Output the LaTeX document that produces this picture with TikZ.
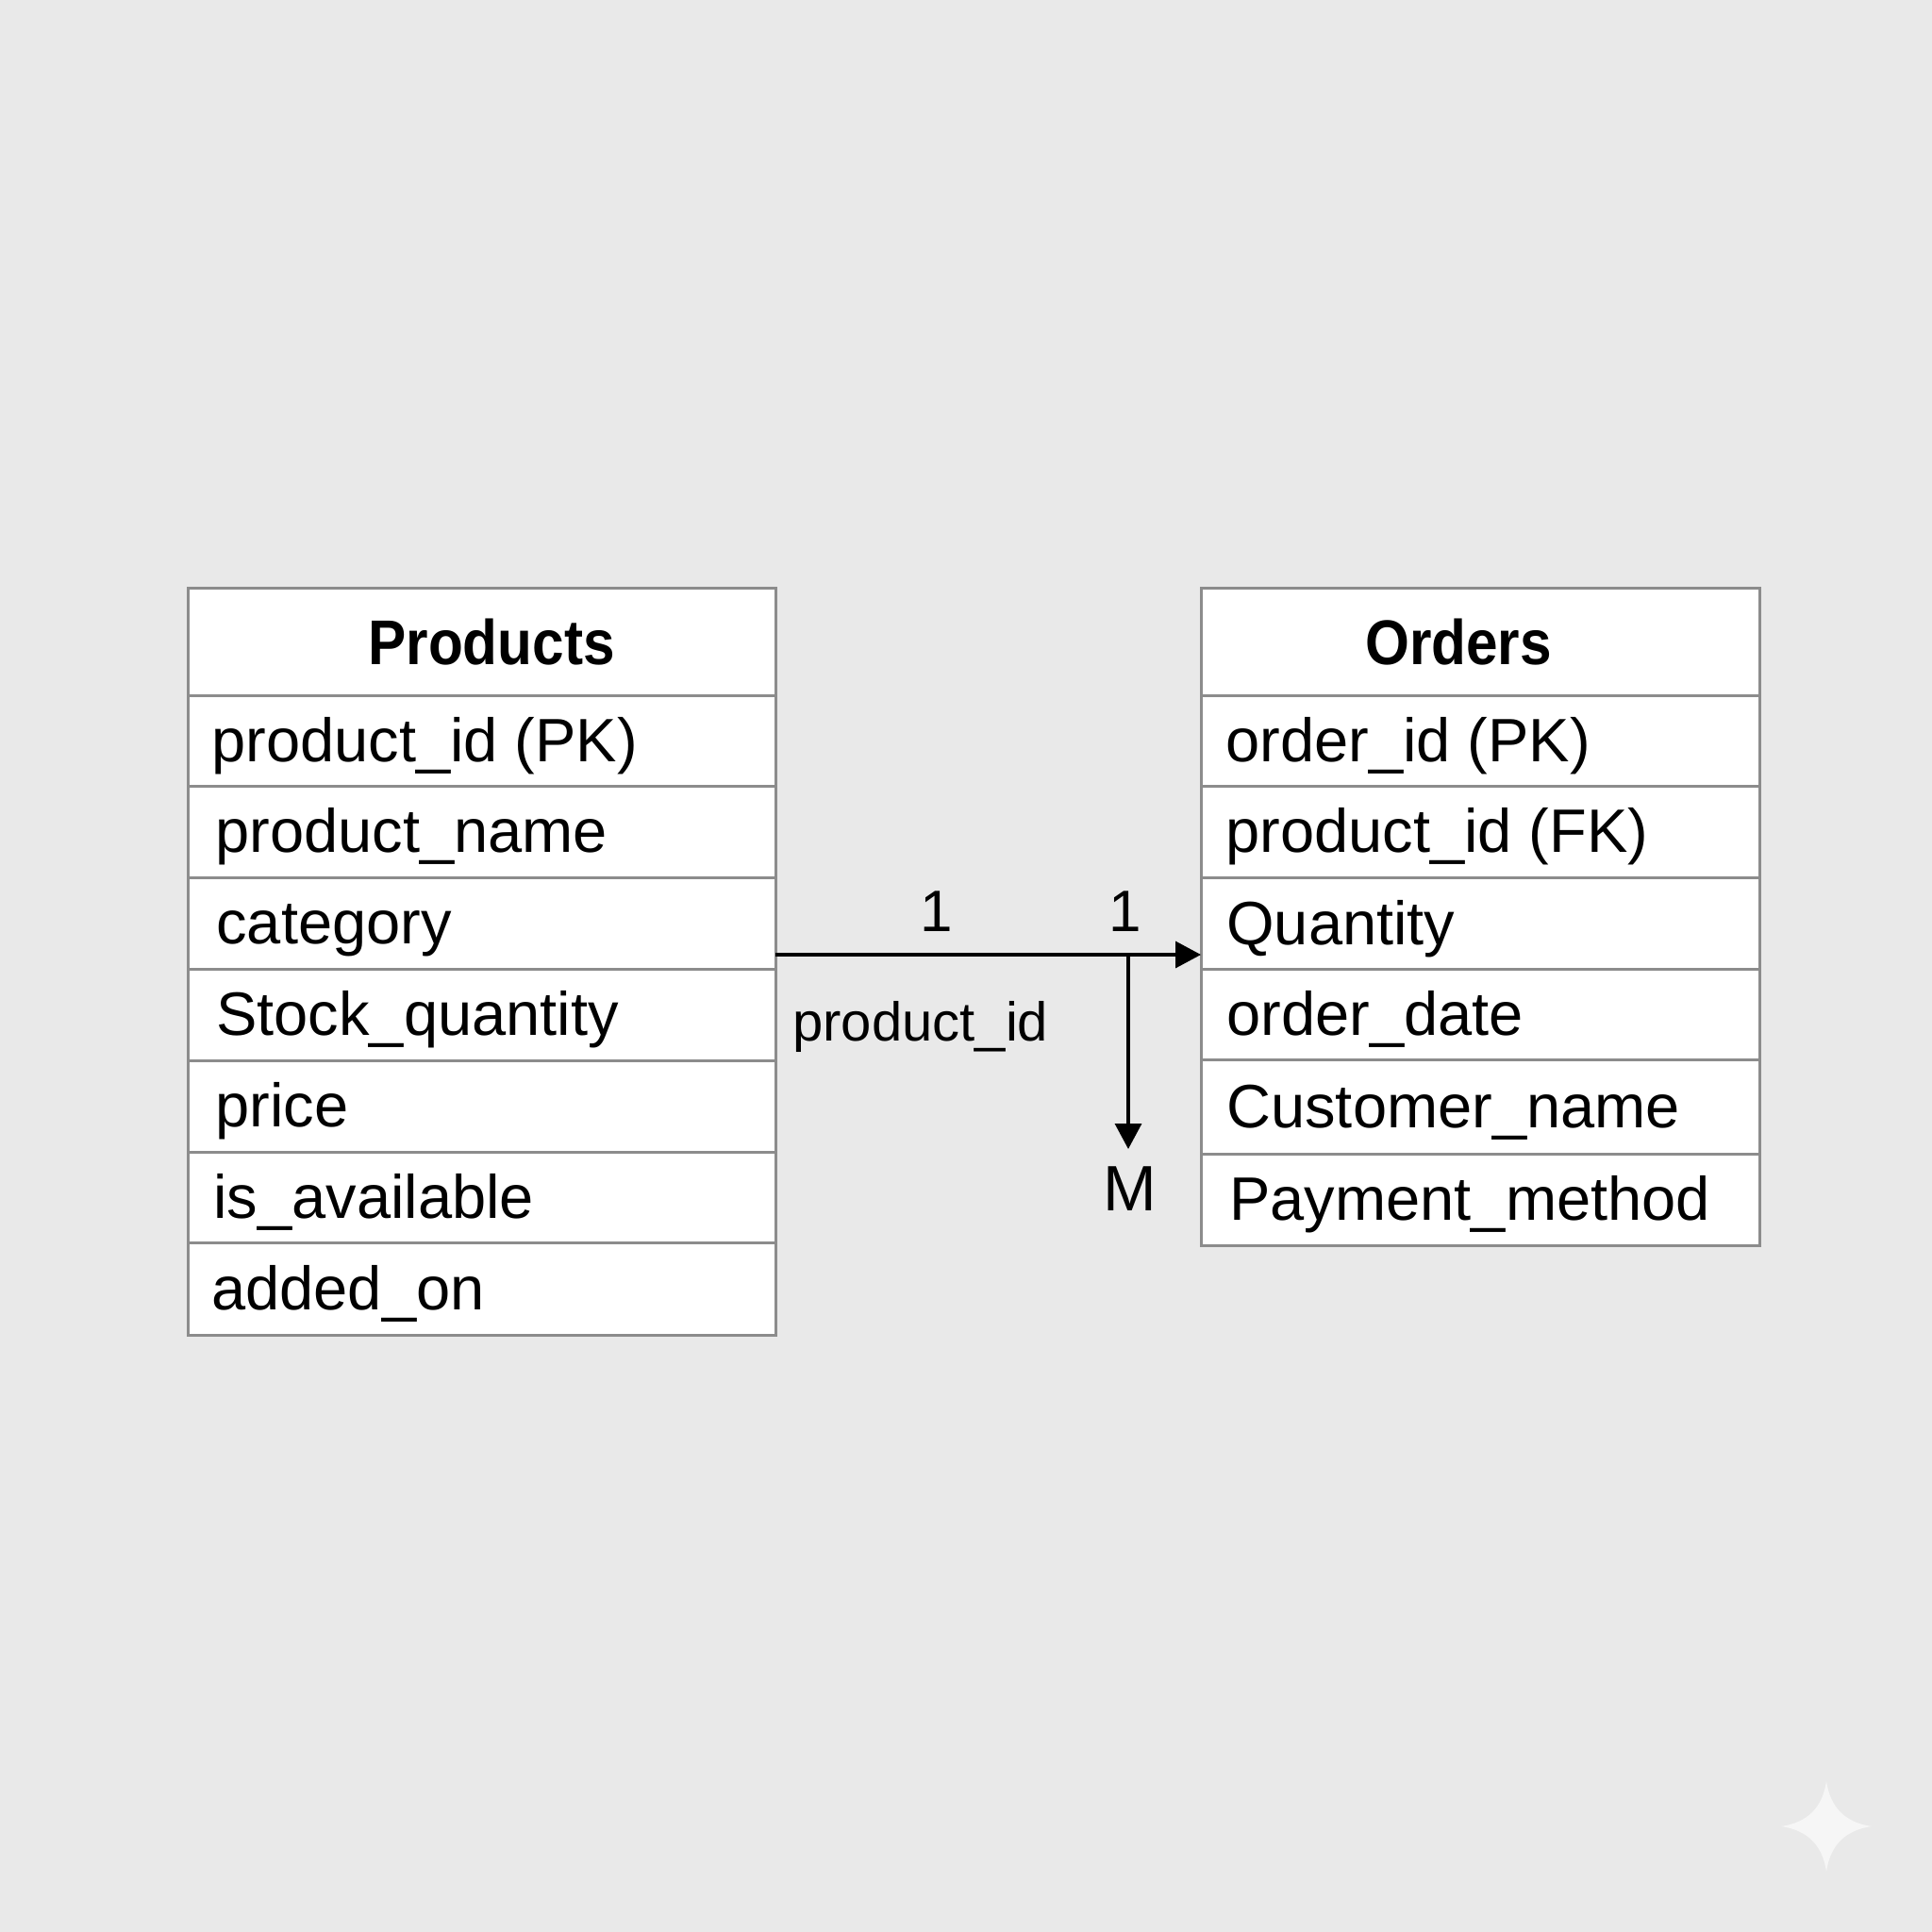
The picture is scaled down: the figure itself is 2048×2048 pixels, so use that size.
\documentclass[tikz,border=0pt]{standalone}
\usepackage{fontspec}
\setmainfont{Liberation Sans}
\newfontfamily\headfont{Liberation Sans}[FakeStretch=0.9]
\usetikzlibrary{arrows.meta}
\definecolor{bgcol}{HTML}{E9E9E9}
\definecolor{bordercol}{HTML}{8C8C8C}
\definecolor{sparkcol}{HTML}{F6F6F6}
\begin{document}
\begin{tikzpicture}[x=0.5pt,y=-0.5pt,
  cell/.style={draw=bordercol, fill=white, line width=1.5pt, anchor=north west, inner sep=0pt, outer sep=0pt},
  field/.style={anchor=base west, inner sep=0pt, font=\fontsize{32.5pt}{39pt}\selectfont},
  header/.style={anchor=base, inner sep=0pt, font=\headfont\fontsize{33.5pt}{40pt}\selectfont\bfseries},
  lbl/.style={anchor=base, inner sep=0pt, font=\fontsize{31pt}{37pt}\selectfont},
  conn/.style={draw=black, line width=1.7pt, -{Triangle[length=13.5pt,width=14pt]}},
  sparkle/.style={fill=sparkcol}
]
\fill[bgcol] (0,0) rectangle (2048,2048);
\useasboundingbox (0,0) rectangle (2048,2048);

% Products table cells
\foreach \n/\t/\b in {0/623/737,1/737/833,2/833/930,3/930/1027,4/1027/1124,5/1124/1221,6/1221/1317,7/1317/1415}
  \node[cell, minimum width=311.5pt, minimum height={(\b-\t)*0.5pt}] (p\n) at (199,\t) {};

% Orders table cells
\foreach \n/\t/\b in {0/623/737,1/737/833,2/833/930,3/930/1027,4/1027/1123,5/1123/1223,6/1223/1320}
  \node[cell, minimum width=296pt, minimum height={(\b-\t)*0.5pt}] (o\n) at (1273,\t) {};

% headers
\node[header] (ph) at (521,704) {Products};
\node[header] (oh) at (1546,704) {Orders};

% Products fields
\node[field] (pt1) at (224,807) {product\_id (PK)};
\node[field] (pt2) at (228,903) {product\_name};
\node[field] (pt3) at (229,1000) {category};
\node[field] (pt4) at (229,1097) {Stock\_quantity};
\node[field] (pt5) at (228,1194) {price};
\node[field] (pt6) at (226,1291) {is\_available};
\node[field] (pt7) at (224,1388) {added\_on};

% Orders fields
\node[field] (ot1) at (1299,807) {order\_id (PK)};
\node[field] (ot2) at (1299,903) {product\_id (FK)};
\node[field] (ot3) at (1300,1001) {Quantity};
\node[field] (ot4) at (1300,1097) {order\_date};
\node[field] (ot5) at (1300,1195) {Customer\_name};
\node[field] (ot6) at (1303,1293) {Payment\_method};

% connectors
\coordinate (src) at (822,1012);
\coordinate (tgt) at (1273,1012);
\coordinate (jn) at (1196,1012);
\coordinate (mend) at (1196,1218);
\draw[conn] (src) -- (tgt);
\draw[conn] (jn) -- (mend);

% labels
\node[lbl] (one1) at (993,987) {1};
\node[lbl] (one2) at (1193,987) {1};
\node[lbl, anchor=base west, font=\fontsize{29pt}{35pt}\selectfont] (fk) at (840,1103) {product\_id};
\node[lbl, font=\fontsize{34pt}{40pt}\selectfont] (many) at (1198,1283) {M};

% watermark sparkle
\fill[sparkle] (1936,1888) .. controls (1940,1916) and (1956,1932) .. (1984,1936)
  .. controls (1956,1940) and (1940,1956) .. (1936,1984)
  .. controls (1932,1956) and (1916,1940) .. (1888,1936)
  .. controls (1916,1932) and (1932,1916) .. (1936,1888) -- cycle;
\end{tikzpicture}
\end{document}
